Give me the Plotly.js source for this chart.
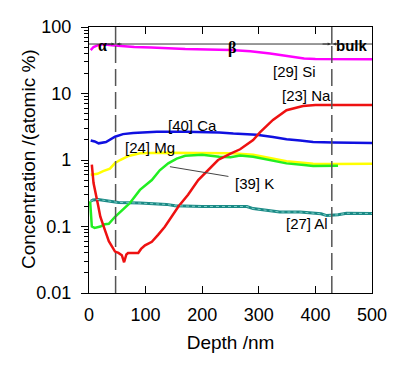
<!DOCTYPE html>
<html>
<head>
<meta charset="utf-8">
<script src="https://cdn.plot.ly/plotly-3.0.1.min.js"></script>
<style>html,body{margin:0;padding:0;background:#fff;}#chart{width:408px;height:368px;}</style>
</head>
<body>
<div id="chart"></div>
<script>
// Depth (nm) and concentration (atomic %)
const siX = [3, 8, 15, 25, 40, 50, 80, 110, 170, 250, 285, 320, 345, 360, 380, 400, 500];
const siY = [45, 50, 53, 55, 53, 52, 50, 49, 46.5, 45, 43, 40, 37, 35, 33.5, 33, 32.7];

const naX = [5, 6, 8, 16, 20, 28, 35, 46, 52, 58, 62, 66, 69, 87, 92, 99, 111, 122, 134, 158, 175, 193, 210, 228, 250, 267, 290, 302, 325, 349, 378, 400, 500];
const naY = [0.85, 0.6, 0.45, 0.21, 0.14, 0.089, 0.06, 0.042, 0.04, 0.037, 0.029, 0.038, 0.04, 0.04, 0.046, 0.052, 0.059, 0.075, 0.099, 0.2, 0.3, 0.5, 0.7, 1.0, 1.25, 1.45, 2.0, 2.6, 4.0, 5.6, 6.5, 6.7, 6.7];

const caX = [3, 10, 17, 30, 46, 60, 78, 120, 170, 230, 255, 296, 325, 349, 373, 396, 432, 500];
const caY = [1.97, 1.9, 1.78, 1.86, 2.24, 2.45, 2.55, 2.65, 2.67, 2.6, 2.5, 2.4, 2.22, 2.05, 1.96, 1.87, 1.84, 1.8];

const mgX = [3, 15, 25, 37, 46, 55, 70, 90, 130, 200, 252, 290, 320, 349, 373, 396, 432, 500];
const mgY = [0.6, 0.62, 0.68, 0.74, 0.9, 1.0, 1.15, 1.26, 1.28, 1.27, 1.26, 1.2, 1.08, 0.96, 0.92, 0.88, 0.87, 0.88];

const kX = [2, 3, 5, 10, 20, 28, 35, 46, 60, 72, 90, 111, 125, 140, 155, 170, 200, 230, 250, 267, 290, 320, 349, 380, 396, 440];
const kY = [0.24, 0.15, 0.1, 0.095, 0.1, 0.108, 0.11, 0.14, 0.18, 0.224, 0.355, 0.5, 0.7, 0.89, 1.05, 1.16, 1.2, 1.12, 1.1, 1.17, 1.12, 1.0, 0.89, 0.84, 0.81, 0.82];

const alX = [3, 7, 16, 30, 52, 90, 137, 152, 200, 258, 279, 290, 337, 373, 410, 420, 440, 455, 500];
const alY = [0.24, 0.25, 0.255, 0.245, 0.23, 0.225, 0.215, 0.205, 0.2, 0.2, 0.2, 0.186, 0.165, 0.165, 0.155, 0.146, 0.15, 0.158, 0.157];

const xTicks = [0, 100, 200, 300, 400, 500];
const yTicks = [0.01, 0.1, 1, 10, 100];
const yTickText = ['0.01', '0.1', '1', '10', '100'];
const yMinorMult = [2, 3, 4, 5, 6, 7, 8, 9];
const regionBounds = [47, 429];
const regionLabels = ['\u03b1', '\u03b2', 'bulk'];
const regionLabelX = [23, 252, 463];

const minorVals = [];
yTicks.slice(0, -1).forEach(d => yMinorMult.forEach(m => minorVals.push(m * d)));

function tr(x, y, color, width) {
  return {x: x, y: y, type: 'scatter', mode: 'lines', line: {color: color, width: width || 2.5}, hoverinfo: 'skip', showlegend: false};
}
const alTex = tr(alX, alY, '#7fd0c8', 1);
alTex.line.dash = 'dot';
alTex.yaxis = 'y2';
const data = [
  tr(alX, alY, '#1b8a86', 3),
  alTex,
  tr(siX, siY, '#ff00ff'),
  tr(caX, caY, '#1010e0'),
  tr(mgX, mgY, '#ffff00'),
  tr(kX, kY, '#22ee22'),
  tr(naX, naY, '#ee1111')
];

const lineY = 0.936;
const shapes = [
  {type: 'line', xref: 'paper', yref: 'paper', x0: 0, x1: 1, y0: lineY, y1: lineY, line: {color: '#333', width: 1}}
];
regionBounds.forEach(b => {
  shapes.push({type: 'line', xref: 'x', yref: 'paper', x0: b, x1: b, y0: lineY, y1: 1, line: {color: '#555', width: 1.5}});
  shapes.push({type: 'line', xref: 'x', yref: 'paper', x0: b, x1: b, y0: 0, y1: lineY, line: {color: '#555', width: 1.5, dash: '17px,6px'}});
});

const ann = [];
const sans = 'Liberation Sans, Arial, sans-serif';
const lblFont = {family: sans, size: 15, color: '#000'};
function lab(text, px, py) {
  ann.push({text: text, xref: 'x', yref: 'paper', x: px, y: py, showarrow: false, font: lblFont, xanchor: 'center', yanchor: 'middle'});
}
// plot area: top 27px, bottom 293px (266px tall)
function py(p) { return (293 - p) / 266; }
lab('[29] Si', 363, py(71));
lab('[23] Na', 385, py(95));
lab('[40] Ca', 182, py(125));
lab('[24] Mg', 108, py(147));
lab('[39] K', 293, py(183));
lab('[27] Al', 385, py(223));
ann.push({text: '', xref: 'x', yref: 'paper', x: 143, y: py(166.7), axref: 'x', ayref: 'pixel', ax: 249, ay: 10, showarrow: true, arrowhead: 0, arrowwidth: 1, arrowcolor: '#444'});
// region labels
const regFont = {family: 'Liberation Serif, serif', size: 16, color: '#000'};
ann.push({text: '<b>' + regionLabels[0] + '</b>', xref: 'x', yref: 'paper', x: regionLabelX[0], y: py(35), showarrow: false, font: regFont});
ann.push({text: '<b>' + regionLabels[1] + '</b>', xref: 'x', yref: 'paper', x: regionLabelX[1], y: py(37), showarrow: false, font: regFont});
ann.push({text: '<b>' + regionLabels[2] + '</b>', xref: 'x', yref: 'paper', x: regionLabelX[2], y: py(35), showarrow: false, font: {family: sans, size: 15, color: '#000'}});
// small arrowheads at region boundaries
[[30, 45], [60, 49], [410, 427], [448, 431]].forEach(p => {
  ann.push({text: '', xref: 'x', yref: 'paper', x: p[1], y: lineY, axref: 'x', ayref: 'pixel', ax: p[0], ay: 0, showarrow: true, arrowhead: 2, arrowsize: 0.6, arrowwidth: 1, arrowcolor: '#333'});
});
// y axis title
ann.push({text: 'Concentration /(atomic %)', xref: 'paper', yref: 'paper', x: (28 - 89) / 283, y: py(159), textangle: -90, showarrow: false, xanchor: 'center', yanchor: 'middle', font: {family: sans, size: 19, color: '#000'}});

const axFont = {family: sans, size: 18, color: '#000'};
const layout = {
  width: 408, height: 368,
  margin: {l: 89, r: 36, t: 27, b: 75},
  paper_bgcolor: '#fff', plot_bgcolor: '#fff',
  showlegend: false,
  xaxis: {
    range: [0, 500], tickmode: 'array', tickvals: xTicks, ticks: 'inside', ticklen: 7, tickwidth: 1, tickcolor: '#000',
    showline: true, linecolor: '#000', linewidth: 1.2, mirror: 'ticks', showgrid: false, zeroline: false,
    tickfont: axFont, ticklabelstandoff: 5,
    title: {text: 'Depth /nm', font: {family: sans, size: 19, color: '#000'}, standoff: 12}
  },
  yaxis: {
    type: 'log', range: [-2, 2], tickmode: 'array', tickvals: yTicks, ticktext: yTickText,
    ticks: 'outside', ticklen: 7, tickwidth: 1, tickcolor: '#000', ticklabelstandoff: 6,
    showline: true, linecolor: '#000', linewidth: 1.2, mirror: true, showgrid: false, zeroline: false,
    tickfont: axFont
  },
  yaxis2: {
    type: 'log', range: [-2, 2], overlaying: 'y', side: 'left', tickmode: 'array', tickvals: minorVals,
    ticks: 'outside', ticklen: 4, tickwidth: 1, tickcolor: '#000', showticklabels: false,
    showline: false, showgrid: false, zeroline: false
  },
  shapes: shapes,
  annotations: ann
};
Plotly.newPlot('chart', data, layout, {staticPlot: true, displayModeBar: false});
</script>
</body>
</html>
